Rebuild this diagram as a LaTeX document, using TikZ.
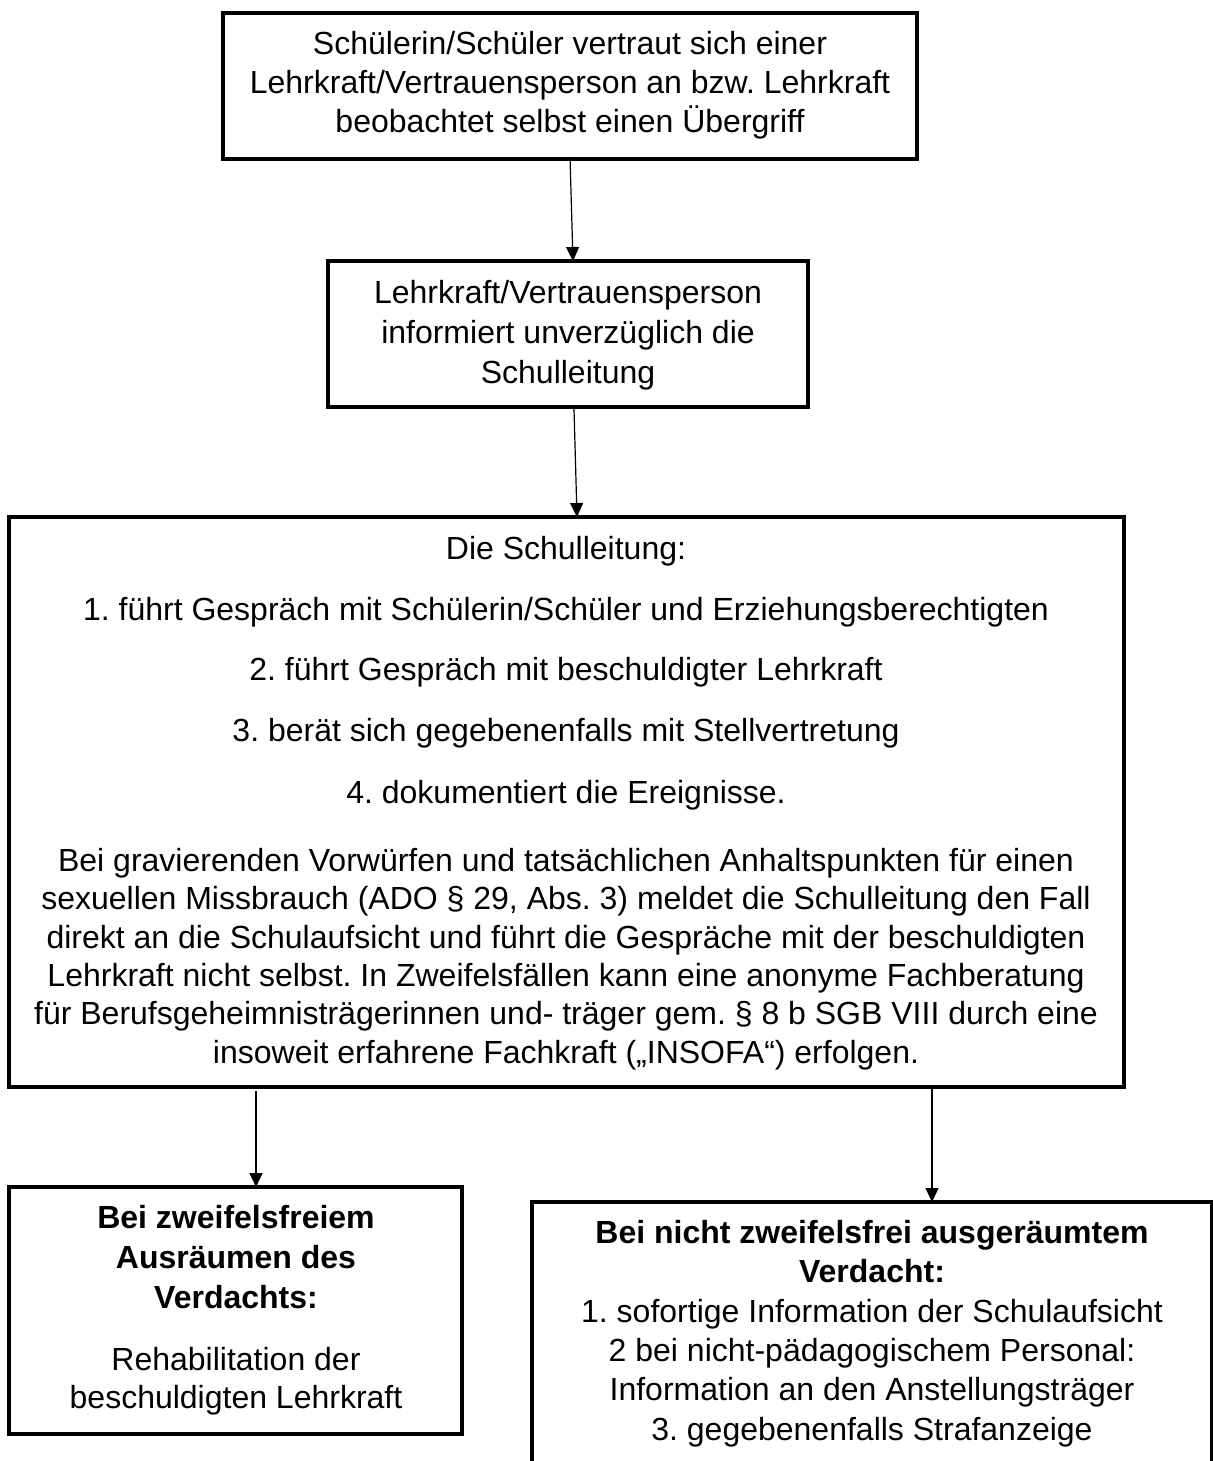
\documentclass[tikz,border=0pt]{standalone}
\usepackage{fontspec}
\setmainfont{Liberation Sans}
\usetikzlibrary{arrows.meta}
\begin{document}
\frenchspacing
\begin{tikzpicture}[x=0.5pt,y=-0.5pt,
  box/.style={draw=black,line width=1.8pt,inner sep=0pt,outer sep=0pt,anchor=north west,fill=white},
  txt/.style={anchor=base,align=center,inner sep=0pt,font=\fontsize{16pt}{19.5pt}\selectfont},
  arr/.style={draw=black,line width=0.6pt,-{Triangle[width=6.5pt,length=7pt]}}]
\useasboundingbox[fill=white] (0,0) rectangle (1213,1461);
% boxes
\node[box,minimum width=347pt,minimum height=73pt] (b1) at (223,13) {};
\node[box,minimum width=240pt,minimum height=73pt] (b2) at (328,261) {};
\node[box,minimum width=557.5pt,minimum height=285pt] (b3) at (9,517) {};
\node[box,minimum width=226.5pt,minimum height=123.5pt] (b4) at (9,1187) {};
\node[box,minimum width=340pt,minimum height=139pt] (b5) at (532,1202) {};
% texts (anchor = baseline of the last line)
\node[txt] (t1) at (570,133) {Schülerin/Schüler vertraut sich einer\\Lehrkraft/Vertrauensperson an bzw. Lehrkraft\\beobachtet selbst einen Übergriff};
\node[txt,font=\fontsize{16pt}{20pt}\selectfont] (t2) at (568,383) {Lehrkraft/Vertrauensperson\\informiert unverzüglich die\\Schulleitung};
\node[txt,font=\fontsize{16pt}{19.15pt}\selectfont] (t3) at (566,1063) {Die Schulleitung:\\[11.35pt]
1. führt Gespräch mit Schülerin/Schüler und Erziehungsberechtigten\\[10.85pt]
2. führt Gespräch mit beschuldigter Lehrkraft\\[11.35pt]
3. berät sich gegebenenfalls mit Stellvertretung\\[11.85pt]
4. dokumentiert die Ereignisse.\\[14.85pt]
Bei gravierenden Vorwürfen und tatsächlichen Anhaltspunkten für einen\\
sexuellen Missbrauch (ADO § 29, Abs. 3) meldet die Schulleitung den Fall\\
direkt an die Schulaufsicht und führt die Gespräche mit der beschuldigten\\
Lehrkraft nicht selbst. In Zweifelsfällen kann eine anonyme Fachberatung\\
für Berufsgeheimnisträgerinnen und- träger gem. § 8 b SGB VIII durch eine\\
insoweit erfahrene Fachkraft („INSOFA“) erfolgen.};
\node[txt,font=\fontsize{16pt}{20pt}\selectfont\bfseries] (t4a) at (236,1308) {Bei zweifelsfreiem\\Ausräumen des\\Verdachts:};
\node[txt,font=\fontsize{16pt}{19pt}\selectfont] (t4b) at (236,1408) {Rehabilitation der\\beschuldigten Lehrkraft};
\node[txt,font=\fontsize{16pt}{19.5pt}\selectfont\bfseries] (t5a) at (872,1282) {Bei nicht zweifelsfrei ausgeräumtem\\Verdacht:};
\node[txt,font=\fontsize{16pt}{19.6pt}\selectfont] (t5b) at (872,1440) {1. sofortige Information der Schulaufsicht\\2 bei nicht-pädagogischem Personal:\\Information an den Anstellungsträger\\3. gegebenenfalls Strafanzeige};
% connectors
\draw[arr] ([yshift=1pt]b1.south) -- ([xshift=2.5pt]b2.north);
\draw[arr] ([xshift=3pt,yshift=-1pt]b2.south) -- ([xshift=5.25pt]b3.north);
\draw[arr] ([xshift=-155.25pt,yshift=-2pt]b3.south) -- ([xshift=10.25pt]b4.north);
\draw[arr] ([xshift=182.75pt,yshift=-1pt]b3.south) -- ([xshift=30pt]b5.north);
\end{tikzpicture}
\end{document}
